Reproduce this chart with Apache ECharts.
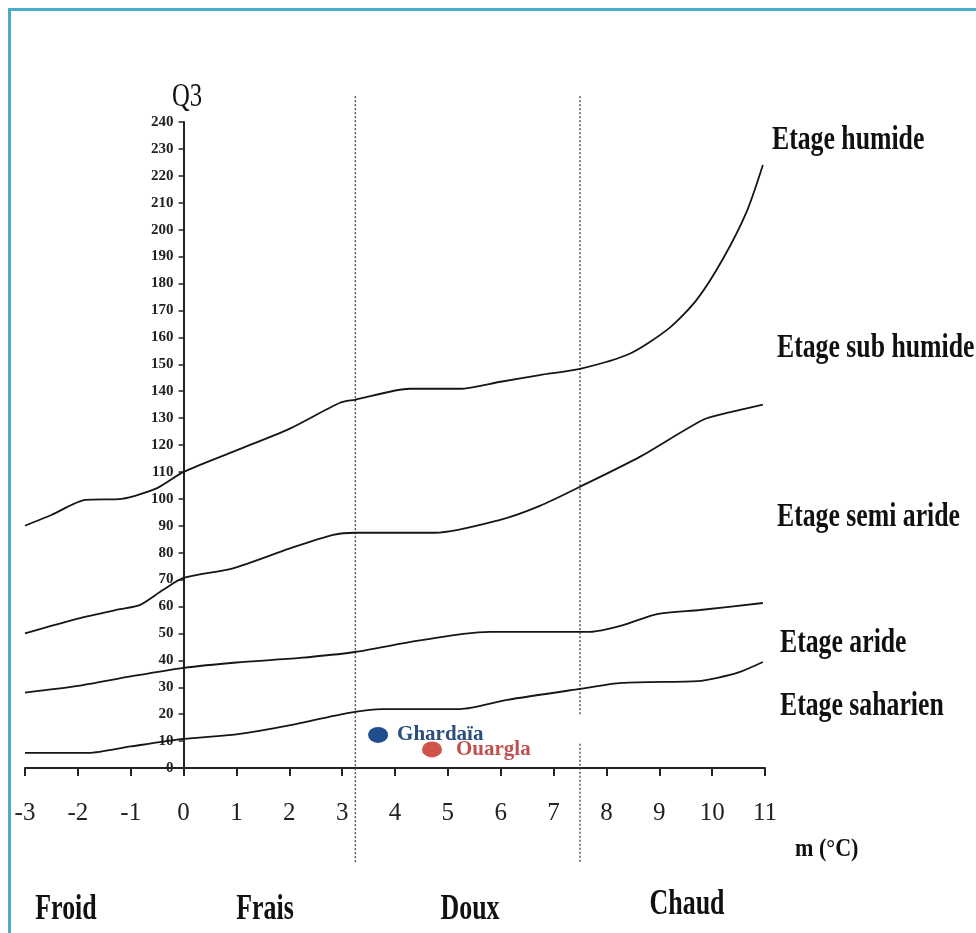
<!DOCTYPE html>
<html>
<head>
<meta charset="utf-8">
<title>Climagramme d'Emberger</title>
<script src="https://cdn.jsdelivr.net/npm/echarts@6/dist/echarts.min.js"></script>
<style>
  html, body { margin: 0; padding: 0; background: #ffffff; }
  #chart { width: 976px; height: 933px; }
</style>
</head>
<body>
<div id="chart"></div>
<script>
// Emberger climagram: Q3 against m (°C), with the bioclimatic stage limits.
const xTicks = [-3, -2, -1, 0, 1, 2, 3, 4, 5, 6, 7, 8, 9, 10, 11];
const yTicks = [0, 10, 20, 30, 40, 50, 60, 70, 80, 90, 100, 110, 120, 130, 140,
                150, 160, 170, 180, 190, 200, 210, 220, 230, 240];

// Limit curves [m, Q3]
const limitHumide = [[-3, 90], [-2.5, 94], [-1.86, 99.6], [-1.17, 100], [-0.5, 104], [0, 110],
  [1, 118], [2, 126], [2.96, 135.7], [3.24, 136.8], [4.28, 140.9], [5.23, 140.9], [6, 143.5],
  [6.74, 146], [7.5, 148.3], [8.45, 154], [9.2, 163.6], [9.71, 174], [10.2, 189], [10.66, 207],
  [10.96, 224]];
const limitSubHumide = [[-3, 50], [-2, 55.5], [-1.2, 59], [-0.82, 60.6], [-0.4, 66], [0, 70.6],
  [0.95, 74.3], [2, 81.5], [2.83, 86.6], [3.25, 87.4], [4.76, 87.4], [5.99, 92.2], [6.74, 97.4],
  [7.5, 104.5], [8.63, 115.6], [9.83, 129.4], [10.3, 132], [10.96, 135]];
const limitSemiAride = [[-3, 28], [-2, 30.5], [-1, 34], [0, 37.2], [1, 39.2], [2.2, 40.9],
  [3.24, 43.1], [4.2, 46.5], [5.29, 49.8], [5.8, 50.6], [7.69, 50.6], [8.3, 53], [8.96, 57.2],
  [9.77, 58.7], [10.96, 61.3]];
const limitAride = [[-3, 5.6], [-1.8, 5.6], [-1, 8], [0, 10.8], [1, 12.5], [2, 15.8], [3.1, 20.4],
  [3.77, 21.9], [5.23, 21.9], [6.12, 25.3], [7.5, 29.4], [8.29, 31.6], [9.73, 32.3], [10.1, 33.5],
  [10.5, 35.5], [10.96, 39.4]];

// Winter-temperature class boundaries (dotted verticals)
const boundaryFraisDoux = [[3.25, -35], [3.25, 250]];
const boundaryDouxChaudUpper = [[7.5, 20], [7.5, 250]];
const boundaryDouxChaudLower = [[7.5, 9], [7.5, -35]];

// Stations
const stationNames = ['Ghardaïa', 'Ouargla'];
const stationValues = [[3.68, 12.3], [4.70, 6.9]];
const stationColors = ['#1f4e8c', '#d0524a'];
const stationLabelColors = ['#2a4f7f', '#c0504d'];
const stationLabelGaps = [9, 14];

// Stage names and temperature classes
const stageNames = ['Etage humide', 'Etage sub humide', 'Etage semi aride', 'Etage aride', 'Etage saharien'];
const classNames = ['Froid', 'Frais', 'Doux', 'Chaud'];

const chart = echarts.init(document.getElementById('chart'));

// Plot area in pixels; the Q3 axis stands at m = 0
const gridLeft = 25, gridRight = 211, gridTop = 122, gridBottom = 165;
const plotWidth = 976 - gridLeft - gridRight;
const yAxisShift = -plotWidth * (0 - xTicks[0]) / (xTicks[xTicks.length - 1] - xTicks[0]);

const curveStyle = { color: '#161616', width: 1.8 };
const dotStyle = { color: '#4a4a4a', width: 1.4, type: [2, 2] };
const serifBold = { fontFamily: 'Liberation Serif', fontWeight: 'bold', fill: '#111111' };

function curve(data) {
  return { type: 'line', data: data, smooth: 0.25, symbol: 'none', lineStyle: curveStyle, z: 3 };
}
function boundary(data) {
  return { type: 'line', data: data, symbol: 'none', lineStyle: dotStyle, clip: false, z: 2, silent: true };
}

// Stage label positions (left x, vertical centre y) and class label positions (centre x, y)
const stagePos = [[772, 140], [777, 348], [777, 517], [780, 643], [780, 706]];
const classPos = [[66, 910], [265, 910], [470, 910], [687, 905]];

const graphics = [
  { type: 'rect', shape: { x: 9.5, y: 9.5, width: 1200, height: 1200 },
    style: { fill: 'none', stroke: '#4aacc6', lineWidth: 3 }, z: 10 },
  { type: 'text', x: 187, y: 97, scaleX: 0.75,
    style: { text: 'Q3', fontFamily: 'Liberation Serif', fontSize: 33, fill: '#111111',
             align: 'center', verticalAlign: 'middle' } },
  { type: 'text', x: 795, y: 849, scaleX: 0.85,
    style: Object.assign({ text: 'm (°C)', fontSize: 26, align: 'left', verticalAlign: 'middle' }, serifBold) }
];
stageNames.forEach(function (name, i) {
  graphics.push({ type: 'text', x: stagePos[i][0], y: stagePos[i][1], scaleX: 0.78,
    style: Object.assign({ text: name, fontSize: 33, align: 'left', verticalAlign: 'middle' }, serifBold) });
});
classNames.forEach(function (name, i) {
  graphics.push({ type: 'text', x: classPos[i][0], y: classPos[i][1], scaleX: 0.72,
    style: Object.assign({ text: name, fontSize: 36, align: 'center', verticalAlign: 'middle' }, serifBold) });
});

const stationSeries = stationNames.map(function (name, i) {
  return {
    type: 'scatter',
    name: name,
    data: [stationValues[i]],
    symbol: 'circle',
    symbolSize: [20, 16],
    itemStyle: { color: stationColors[i], opacity: 1 },
    label: {
      show: true, position: 'right', distance: stationLabelGaps[i], formatter: name,
      fontFamily: 'Liberation Serif', fontWeight: 'bold', fontSize: 21,
      color: stationLabelColors[i], opacity: 1
    },
    z: 5
  };
});

chart.setOption({
  backgroundColor: '#ffffff',
  animation: false,
  grid: { left: gridLeft, right: gridRight, top: gridTop, bottom: gridBottom,
          containLabel: false, outerBoundsMode: 'none' },
  xAxis: {
    type: 'value', min: xTicks[0], max: xTicks[xTicks.length - 1], interval: 1,
    axisLine: { show: true, onZero: false, lineStyle: { color: '#222222', width: 2 } },
    axisTick: { show: true, length: 8, lineStyle: { color: '#222222', width: 2 } },
    axisLabel: { margin: 33, fontFamily: 'Liberation Serif', fontSize: 25, color: '#222222' },
    splitLine: { show: false }
  },
  yAxis: {
    type: 'value', min: yTicks[0], max: yTicks[yTicks.length - 1], interval: 10,
    position: 'left', offset: yAxisShift,
    axisLine: { show: true, onZero: false, lineStyle: { color: '#222222', width: 2 } },
    axisTick: { show: true, length: 5, lineStyle: { color: '#222222', width: 1.5 } },
    axisLabel: { margin: 10, fontFamily: 'Liberation Serif', fontWeight: 'bold', fontSize: 15, color: '#222222' },
    splitLine: { show: false }
  },
  graphic: graphics,
  series: [
    curve(limitHumide),
    curve(limitSubHumide),
    curve(limitSemiAride),
    curve(limitAride),
    boundary(boundaryFraisDoux),
    boundary(boundaryDouxChaudUpper),
    boundary(boundaryDouxChaudLower)
  ].concat(stationSeries)
});
</script>
</body>
</html>
